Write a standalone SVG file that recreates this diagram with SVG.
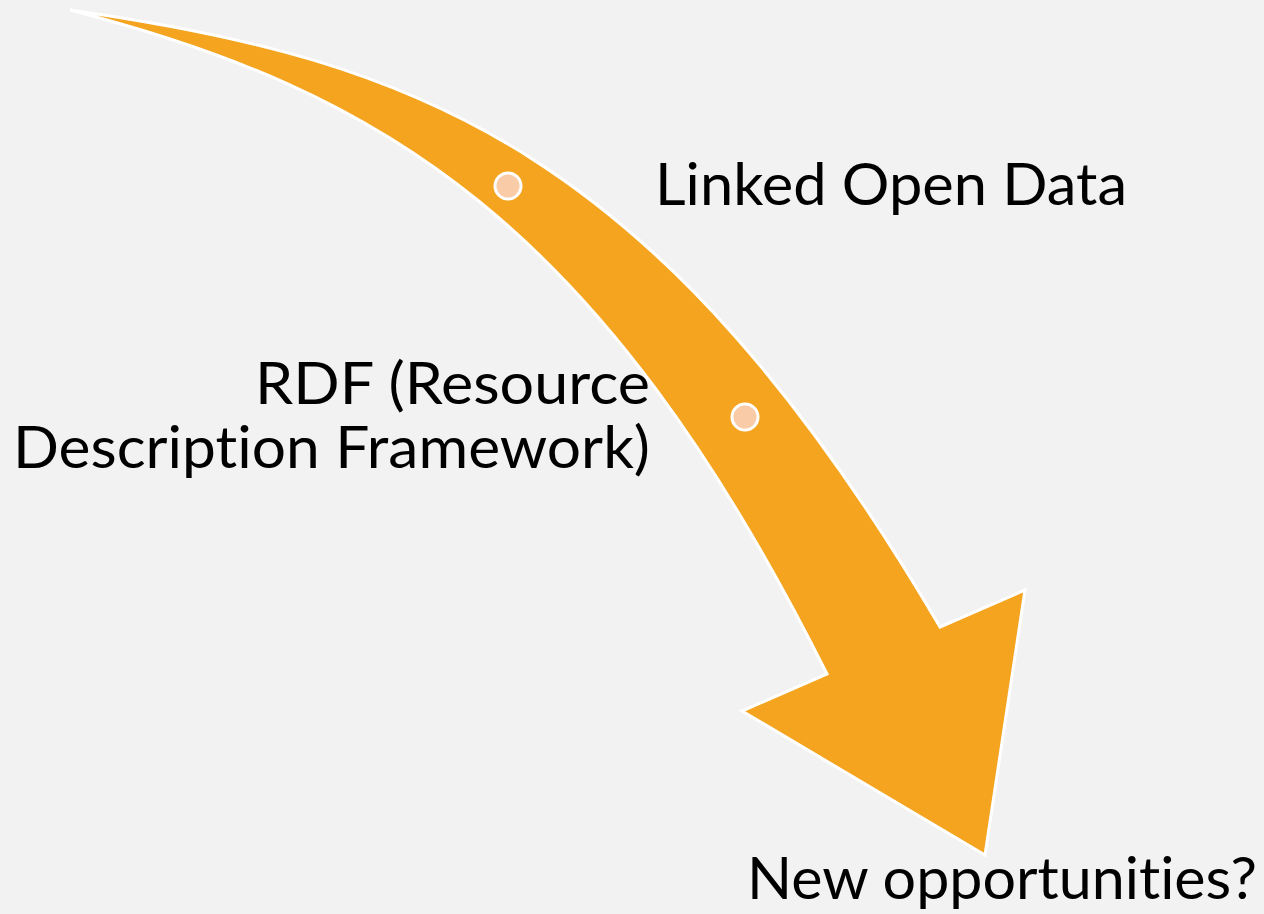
<svg xmlns="http://www.w3.org/2000/svg" width="1264" height="914" viewBox="0 0 1264 914">
  <style>
    .lbl { font-family: Lato, "Open Sans", "Liberation Sans", sans-serif; font-size: 59px; fill: #000000; font-variant-ligatures: none; font-feature-settings: "liga" 0, "clig" 0; }
    .dot { fill: #f9cba7; stroke: #ffffff; stroke-width: 3; }
  </style>
  <rect x="0" y="0" width="1264" height="914" fill="#f2f2f2"/>
  <g id="connectors">
    <path id="arrow" d="M70,10 C420,60 660,150 940,627 L1025,590 L985,855 L742,711 L827,674 C600,220 380,90 70,10 Z" fill="#f5a41f" stroke="#ffffff" stroke-width="3" stroke-linejoin="miter"/>
  </g>
  <g id="node-lod">
    <circle class="dot" cx="508" cy="186" r="13"/>
    <text class="lbl" x="655" y="205" textLength="472" lengthAdjust="spacingAndGlyphs">Linked Open Data</text>
  </g>
  <g id="node-rdf">
    <circle class="dot" cx="745" cy="417" r="13"/>
    <text class="lbl" x="255" y="404" textLength="395" lengthAdjust="spacingAndGlyphs">RDF (Resource</text>
    <text class="lbl" x="13" y="468" textLength="637" lengthAdjust="spacingAndGlyphs">Description Framework)</text>
  </g>
  <g id="node-new">
    <text class="lbl" x="747" y="899" textLength="510" lengthAdjust="spacingAndGlyphs">New opportunities?</text>
  </g>
</svg>
